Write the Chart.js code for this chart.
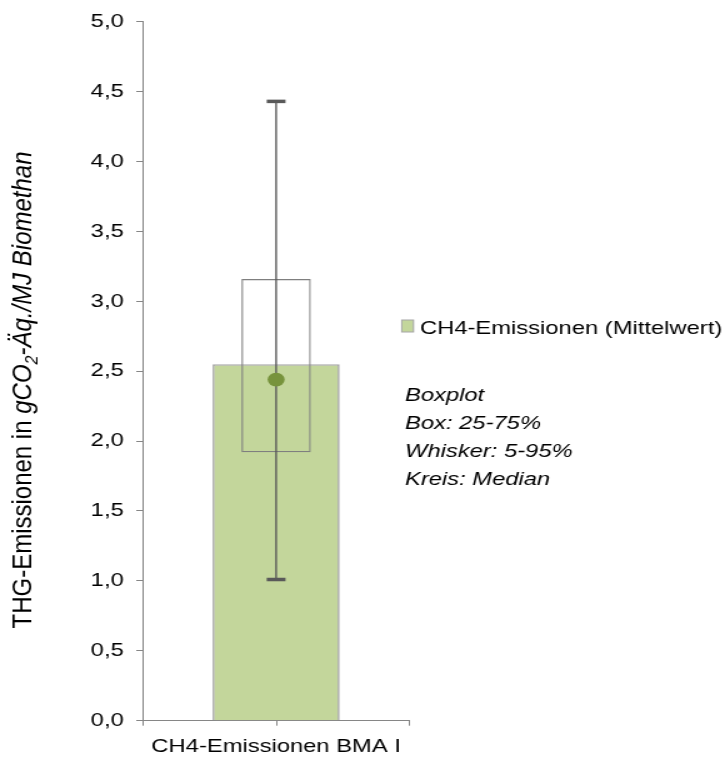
<!DOCTYPE html>
<html>
<head>
<meta charset="utf-8">
<script src="https://cdn.jsdelivr.net/npm/chart.js@4.4.1/dist/chart.umd.min.js"></script>
<style>
  html, body { margin: 0; padding: 0; background: #fff; }
  /* the reference is drawn horizontally stretched, so the canvas is too */
  #wrap { width: 581px; height: 760px; transform: scaleX(1.25); transform-origin: 0 0; }
</style>
</head>
<body>
<div id="wrap"><canvas id="bmaChart" width="581" height="760"></canvas></div>
<script>
// data
var categories = ['CH4-Emissionen BMA I'];
var meanValues = [2.55];
var q25Values = [1.92];
var q75Values = [3.16];
var p5Values = [1.01];
var p95Values = [4.43];
var medianValues = [2.44];
var legendLabel = 'CH4-Emissionen (Mittelwert)';
var noteLines = ['Boxplot', 'Box: 25-75%', 'Whisker: 5-95%', 'Kreis: Median'];

var FONT = 'Liberation Sans, Arial, sans-serif';
var axisGrey = '#868686';

var boxExtras = {
    id: 'boxExtras',
    beforeDatasetDraw: function (chart, args) {
        if (args.index !== 2) return;
        // whiskers, drawn under the median dot
        var ctx = chart.ctx, xs = chart.scales.x, ys = chart.scales.y;
        ctx.save();
        ctx.strokeStyle = '#595959';
        ctx.fillStyle = '#595959';
        ctx.lineWidth = 1.4;
        categories.forEach(function (c, i) {
            var cx = xs.getPixelForValue(i);
            var top = ys.getPixelForValue(p95Values[i]);
            var bot = ys.getPixelForValue(p5Values[i]);
            ctx.beginPath();
            ctx.moveTo(cx, top);
            ctx.lineTo(cx, bot);
            ctx.stroke();
            ctx.fillRect(cx - 7.5, top - 1.75, 15, 3.5);
            ctx.fillRect(cx - 7.5, bot - 1.75, 15, 3.5);
        });
        ctx.restore();
    },
    afterDraw: function (chart) {
        var ctx = chart.ctx, xs = chart.scales.x, area = chart.chartArea;
        ctx.save();

        // centre tick on the category axis
        ctx.strokeStyle = axisGrey;
        ctx.lineWidth = 1;
        categories.forEach(function (c, i) {
            var cx = Math.round(xs.getPixelForValue(i)) + 0.5;
            ctx.beginPath();
            ctx.moveTo(cx, area.bottom);
            ctx.lineTo(cx, area.bottom + 5);
            ctx.stroke();
        });

        // y axis title with subscript
        var parts = [
            { t: 'THG-Emissionen in ', f: '24px ' + FONT, dy: 0 },
            { t: 'gCO', f: 'italic 24px ' + FONT, dy: 0 },
            { t: '2', f: 'italic 16px ' + FONT, dy: 5 },
            { t: '-Äq./MJ Biomethan', f: 'italic 24px ' + FONT, dy: 0 }
        ];
        var total = 0;
        parts.forEach(function (p) { ctx.font = p.f; p.w = ctx.measureText(p.t).width; total += p.w; });
        ctx.save();
        ctx.translate(25.4, 390);
        ctx.scale(0.9, 1);
        ctx.rotate(-Math.PI / 2);
        ctx.fillStyle = '#000';
        ctx.textBaseline = 'alphabetic';
        var px = -total / 2;
        parts.forEach(function (p) {
            ctx.font = p.f;
            ctx.fillText(p.t, px, p.dy);
            px += p.w;
        });
        ctx.restore();

        // legend
        var ds = chart.data.datasets[0];
        ctx.fillStyle = ds.backgroundColor;
        ctx.fillRect(321.4, 320, 9.4, 12);
        ctx.strokeStyle = '#A6A6A6';
        ctx.strokeRect(321.4, 320, 9.4, 12);
        ctx.fillStyle = '#000';
        ctx.font = '19px ' + FONT;
        ctx.textBaseline = 'alphabetic';
        ctx.fillText(ds.label, 336, 333.5);

        // note
        ctx.font = 'italic 19px ' + FONT;
        noteLines.forEach(function (line, i) {
            ctx.fillText(line, 324, 401 + i * 28);
        });
        ctx.restore();
    }
};

var ctx = document.getElementById('bmaChart').getContext('2d');
var bmaChart = new Chart(ctx, {
    type: 'bar',
    data: {
        labels: categories,
        datasets: [{
            label: legendLabel,
            data: meanValues,
            backgroundColor: '#C3D69B',
            borderColor: '#A6A6A6',
            borderWidth: 1.6,
            barPercentage: 0.478,
            categoryPercentage: 1,
            grouped: false,
            order: 3
        }, {
            label: 'Box',
            data: q25Values.map(function (v, i) { return [v, q75Values[i]]; }),
            backgroundColor: 'rgba(0,0,0,0)',
            borderColor: '#7F7F7F',
            borderWidth: 1.2,
            borderSkipped: false,
            barPercentage: 0.261,
            categoryPercentage: 1,
            grouped: false,
            order: 2
        }, {
            type: 'line',
            label: 'Median',
            data: medianValues,
            showLine: false,
            pointRadius: 6.8,
            pointHoverRadius: 6.8,
            pointBackgroundColor: '#77933C',
            pointBorderWidth: 0,
            order: 0
        }]
    },
    options: {
        responsive: false,
        devicePixelRatio: 1,
        animation: false,
        layout: { padding: { left: 0, top: 21.7, right: 253.8, bottom: 0 } },
        plugins: {
            legend: { display: false },
            tooltip: { enabled: false }
        },
        scales: {
            x: {
                offset: true,
                border: { color: axisGrey, width: 1 },
                grid: { drawOnChartArea: false, offset: true, tickLength: 5, color: axisGrey },
                ticks: { color: '#000', font: { family: FONT, size: 19 }, padding: 10 },
                afterFit: function (scale) { scale.height = 39.3; }
            },
            y: {
                min: 0,
                max: 5,
                border: { color: axisGrey, width: 1 },
                grid: { drawOnChartArea: false, tickLength: 5.6, color: axisGrey },
                ticks: {
                    stepSize: 0.5,
                    color: '#000',
                    font: { family: FONT, size: 19 },
                    padding: 10,
                    callback: function (v) { return v.toFixed(1).replace('.', ','); }
                },
                afterFit: function (scale) { scale.width = 114.6; }
            }
        }
    },
    plugins: [boxExtras]
});
</script>
</body>
</html>
